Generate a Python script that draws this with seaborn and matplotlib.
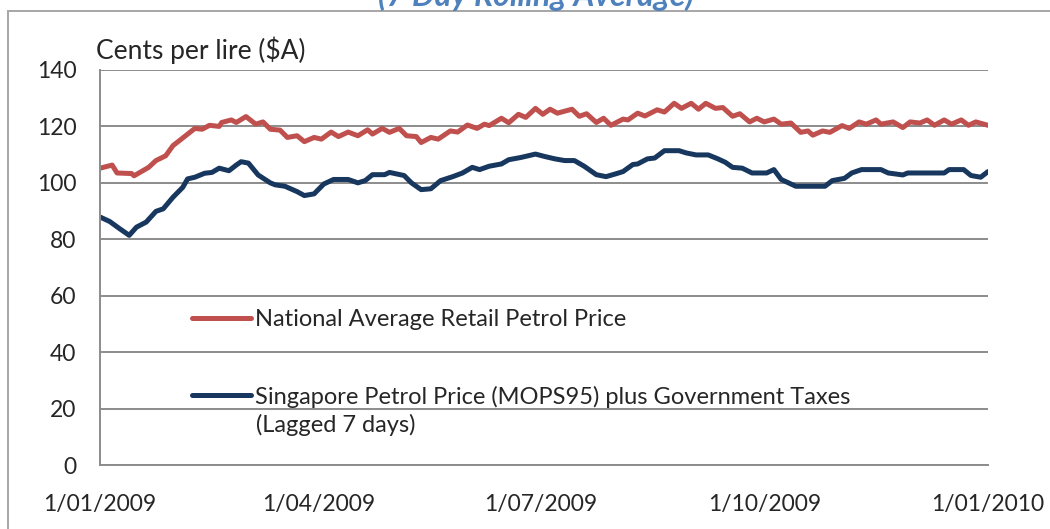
import pandas as pd
import matplotlib.pyplot as plt
import matplotlib.patches as mpatches
import seaborn as sns

# day offsets from 1 Jan 2009 and 7-day rolling values (cents per litre)
retail_days = [0, 5, 7, 13, 14, 20, 23, 27, 30, 34, 39, 42, 45, 49, 50, 54, 56, 60, 64, 67, 70, 74, 77,
               81, 84, 88, 91, 95, 98, 102, 106, 110, 112, 116, 119, 123, 126, 130, 132, 136, 139, 144,
               147, 151, 155, 158, 160, 165, 168, 172, 175, 179, 182, 185, 188, 194, 197, 200, 204, 207,
               210, 215, 217, 221, 224, 229, 232, 236, 239, 243, 246, 249, 253, 256, 260, 263, 267, 270,
               273, 277, 280, 284, 288, 291, 293, 297, 300, 305, 308, 312, 315, 319, 321, 326, 330, 333,
               337, 340, 343, 347, 350, 354, 357, 360, 365]
retail = [105.2, 106.3, 103.5, 103.3, 102.5, 105.5, 107.9, 109.6, 113.2, 115.9, 119.3, 119.0, 120.4, 120.0,
          121.4, 122.3, 121.4, 123.5, 120.8, 121.6, 119.0, 118.7, 116.1, 116.7, 114.6, 116.1, 115.5, 118.0,
          116.4, 118.0, 116.7, 118.8, 117.3, 119.3, 117.9, 119.3, 116.7, 116.4, 114.3, 116.1, 115.5, 118.4,
          118.0, 120.5, 119.3, 120.8, 120.3, 122.9, 121.3, 124.3, 123.2, 126.4, 124.3, 126.1, 124.7, 126.1,
          123.6, 124.5, 121.4, 122.9, 120.4, 122.6, 122.3, 124.7, 123.7, 125.9, 125.1, 128.2, 126.4, 128.2,
          126.1, 128.2, 126.4, 126.7, 123.6, 124.5, 121.6, 122.9, 121.6, 122.6, 120.8, 121.2, 117.9, 118.4,
          116.9, 118.4, 117.9, 120.3, 119.3, 121.6, 120.8, 122.3, 120.8, 121.6, 119.6, 121.6, 121.2, 122.3,
          120.4, 122.3, 120.8, 122.3, 120.4, 121.6, 120.4]

mops_days = [0, 4, 8, 12, 15, 19, 23, 26, 30, 34, 36, 39, 43, 46, 49, 53, 56, 58, 61, 65, 70, 72, 76, 81,
             84, 88, 92, 96, 102, 106, 109, 112, 117, 119, 125, 128, 132, 136, 140, 145, 149, 153, 156,
             160, 165, 168, 173, 179, 183, 187, 191, 195, 199, 204, 208, 212, 215, 219, 221, 225, 228, 232,
             238, 241, 245, 250, 254, 257, 260, 264, 268, 274, 277, 280, 286, 298, 301, 306, 309, 313, 321,
             324, 330, 332, 347, 349, 355, 358, 362, 365]
mops = [87.9, 86.3, 83.8, 81.4, 84.3, 86.1, 89.9, 90.8, 94.9, 98.4, 101.4, 102.0, 103.4, 103.7, 105.2,
        104.3, 106.3, 107.5, 107.0, 102.8, 100.0, 99.3, 98.8, 96.9, 95.5, 96.1, 99.6, 101.2, 101.2, 100.0,
        100.8, 102.9, 102.9, 103.7, 102.6, 100.0, 97.6, 97.9, 100.8, 102.2, 103.5, 105.5, 104.7, 105.9,
        106.7, 108.2, 109.0, 110.2, 109.3, 108.5, 107.9, 107.9, 105.9, 102.9, 102.2, 103.2, 104.0, 106.5,
        106.7, 108.5, 108.8, 111.4, 111.4, 110.6, 109.9, 109.9, 108.5, 107.3, 105.5, 105.2, 103.5, 103.5,
        104.7, 101.2, 98.8, 98.8, 100.8, 101.6, 103.5, 104.7, 104.7, 103.5, 102.8, 103.5, 103.5, 104.7,
        104.7, 102.6, 102.0, 104.0]

retail_label = "National Average Retail Petrol Price"
mops_label = "Singapore Petrol Price (MOPS95) plus Government Taxes"
mops_label_2 = "(Lagged 7 days)"
tick_dates = ["2009-01-01", "2009-04-01", "2009-07-01", "2009-10-01", "2010-01-01"]
tick_labels = ["1/01/2009", "1/04/2009", "1/07/2009", "1/10/2009", "1/01/2010"]

start = pd.Timestamp("2009-01-01")
df_retail = pd.DataFrame({"date": start + pd.to_timedelta(retail_days, unit="D"), "value": retail})
df_mops = pd.DataFrame({"date": start + pd.to_timedelta(mops_days, unit="D"), "value": mops})

sns.set_style("white")
plt.rcParams["font.family"] = ["Lato", "DejaVu Sans"]

fig = plt.figure(figsize=(10.5, 5.29), dpi=100)
ax = fig.add_axes([100 / 1050, 1 - 465 / 529, 888 / 1050, 395 / 529])

sns.lineplot(data=df_retail, x="date", y="value", ax=ax, color="#C0504D", linewidth=3.6, label=retail_label)
sns.lineplot(data=df_mops, x="date", y="value", ax=ax, color="#17375E", linewidth=3.6, label=mops_label)

ax.set_ylim(0, 140)
ax.set_yticks(range(0, 141, 20))
ax.set_xlim(pd.Timestamp(tick_dates[0]), pd.Timestamp(tick_dates[-1]))
ax.set_xticks(pd.to_datetime(tick_dates))
ax.set_xticklabels(tick_labels)
ax.set_xlabel("")
ax.set_ylabel("")
ax.grid(axis="y", color="#8C8C8C", linewidth=1.4)
ax.set_axisbelow(True)
for s in ["top", "right"]:
    ax.spines[s].set_visible(False)
for s in ["left", "bottom"]:
    ax.spines[s].set_color("#8C8C8C")
    ax.spines[s].set_linewidth(1.4)
ax.tick_params(axis="y", direction="out", length=8, width=1.4, color="#8C8C8C", labelsize=16.5, pad=9)
ax.tick_params(axis="x", direction="out", length=8, width=1.4, color="#8C8C8C", labelsize=16.5, pad=13)

ax.text(-0.004, 1.05, "Cents per lire ($A)", transform=ax.transAxes, fontsize=19, va="center", ha="left")

leg = ax.legend(loc="upper left", bbox_to_anchor=(0.104, 0.395), frameon=False, fontsize=17,
                handlelength=2.5, handletextpad=0.15, labelspacing=2.35, borderpad=0, borderaxespad=0)
ax.text(0.1757, 0.101, mops_label_2, transform=ax.transAxes, fontsize=17, va="center", ha="left")

fig.text(536 / 1050, 1 - 6 / 529, "(7 Day Rolling Average)", ha="center", va="baseline",
         fontsize=23, fontweight="bold", fontstyle="italic", color="#4F81BD")

fig.patches.append(mpatches.Rectangle((8 / 1050, -0.1), 1.2, 1 - 11 / 529 + 0.1, transform=fig.transFigure,
                                      fill=False, edgecolor="#A6A6A6", linewidth=1.4))

fig.savefig("out.png", dpi=100)
